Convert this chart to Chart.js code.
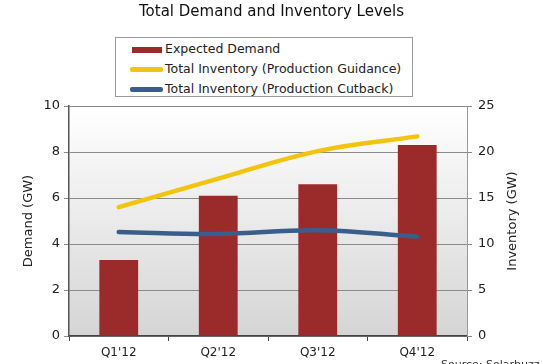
<!DOCTYPE html>
<html>
<head>
<meta charset="utf-8">
<script src="https://cdn.jsdelivr.net/npm/chart.js@4/dist/chart.umd.min.js"></script>
<style>
html,body{margin:0;padding:0;background:#fff;}
#wrap{position:relative;width:543px;height:364px;overflow:hidden;}
#legend{position:absolute;left:115px;top:37px;width:298px;height:60px;border:1px solid #9a9a9a;background:#fff;box-sizing:border-box;padding:1px 0 0 14px;font-family:"DejaVu Sans",Verdana,sans-serif;font-size:12.5px;color:#222;}
#legend .it{height:20px;line-height:19px;white-space:nowrap;}
#legend .sw{display:inline-block;width:33px;vertical-align:middle;margin-right:2px;border-radius:2px;}
#source{position:absolute;left:441px;top:358px;font-family:"DejaVu Sans",Verdana,sans-serif;font-size:11px;color:#333;}
</style>
</head>
<body>
<div id="wrap">
<canvas id="c" width="543" height="364"></canvas>
<div id="legend"></div>
<div id="source">Source: Solarbuzz</div>
</div>
<script>
const categories = ["Q1'12", "Q2'12", "Q3'12", "Q4'12"];
const expectedDemand = [3.3, 6.1, 6.6, 8.3];
const inventoryGuidance = [14.0, 17.1, 20.1, 21.7];
const inventoryCutback = [11.3, 11.1, 11.5, 10.8];
const seriesNames = ["Expected Demand", "Total Inventory (Production Guidance)", "Total Inventory (Production Cutback)"];
const leftTicks = [0, 2, 4, 6, 8, 10];
const rightTicks = [0, 5, 10, 15, 20, 25];

const FONT = '"DejaVu Sans", Verdana, sans-serif';
const colors = ['#9b2a2b', '#f2c40f', '#3b5d8c'];

const bgPlugin = {
  id: 'bg',
  beforeDraw(chart) {
    const {ctx, chartArea: a} = chart;
    const g = ctx.createLinearGradient(0, a.top, 0, a.bottom);
    g.addColorStop(0, '#ffffff');
    g.addColorStop(1, '#d5d5d5');
    ctx.save();
    ctx.fillStyle = g;
    ctx.fillRect(a.left, a.top, a.right - a.left, a.bottom - a.top);
    ctx.restore();
  },
  afterDraw(chart) {
    const {ctx, chartArea: a} = chart;
    const titles = [['Demand (GW)', 29], ['Inventory (GW)', 513]];
    titles.forEach(([t, x]) => {
      ctx.save();
      ctx.fillStyle = '#222';
      ctx.font = '13px ' + FONT;
      ctx.textAlign = 'center';
      ctx.textBaseline = 'middle';
      ctx.translate(x, (a.top + a.bottom) / 2);
      ctx.rotate(-Math.PI / 2);
      ctx.fillText(t, 0, 0);
      ctx.restore();
    });
  }
};

const chart = new Chart(document.getElementById('c'), {
  data: {
    labels: categories,
    datasets: [
      {type: 'line', label: seriesNames[1], data: inventoryGuidance, yAxisID: 'y2',
       borderColor: colors[1], borderWidth: 4.5, pointRadius: 0, tension: 0.4, borderCapStyle: 'round', order: 0},
      {type: 'line', label: seriesNames[2], data: inventoryCutback, yAxisID: 'y2',
       borderColor: colors[2], borderWidth: 4.5, pointRadius: 0, tension: 0.4, borderCapStyle: 'round', order: 0},
      {type: 'bar', label: seriesNames[0], data: expectedDemand, yAxisID: 'y',
       backgroundColor: colors[0], categoryPercentage: 1, barPercentage: 0.39, order: 1}
    ]
  },
  options: {
    responsive: false,
    animation: false,
    devicePixelRatio: 1,
    layout: {padding: {left: 0, right: 0, top: 0, bottom: 0}},
    plugins: {
      legend: {display: false},
      tooltip: {enabled: false},
      title: {display: true, text: 'Total Demand and Inventory Levels', color: '#111',
              font: {family: FONT, size: 15, weight: 'normal'}, padding: {top: 3, bottom: 85}}
    },
    scales: {
      x: {
        offset: true,
        grid: {display: true, drawOnChartArea: false, drawTicks: true, tickLength: 5, color: '#444', offset: true},
        border: {color: '#444', width: 1.5},
        ticks: {color: '#222', font: {family: FONT, size: 12}, padding: 5},
        afterFit(s) { s.height = 28; }
      },
      y: {
        position: 'left', min: 0, max: 10,
        afterBuildTicks(s) { s.ticks = leftTicks.map(v => ({value: v})); },
        grid: {color: '#8a8a8a', lineWidth: 1, tickLength: 5, drawTicks: true},
        border: {color: '#555', width: 1.5},
        ticks: {color: '#222', font: {family: FONT, size: 13}, padding: 4},
        afterFit(s) { s.width = 69; }
      },
      y2: {
        position: 'right', min: 0, max: 25,
        afterBuildTicks(s) { s.ticks = rightTicks.map(v => ({value: v})); },
        grid: {drawOnChartArea: false, color: '#888', tickLength: 5, drawTicks: true},
        border: {color: '#999', width: 1},
        ticks: {color: '#222', font: {family: FONT, size: 13}, padding: 6},
        afterFit(s) { s.width = 76; }
      }
    }
  },
  plugins: [bgPlugin]
});

// HTML legend built from the chart's datasets
const legendOrder = [2, 0, 1];
const leg = document.getElementById('legend');
legendOrder.forEach(i => {
  const ds = chart.data.datasets[i];
  const d = document.createElement('div');
  d.className = 'it';
  const sw = document.createElement('span');
  sw.className = 'sw';
  sw.style.height = ds.type === 'bar' ? '6px' : '5px';
  sw.style.background = ds.type === 'bar' ? ds.backgroundColor : ds.borderColor;
  if (ds.type === 'bar') { sw.style.borderRadius = '0'; sw.style.width = '30px'; sw.style.marginLeft = '2px'; sw.style.marginRight = '3px'; }
  d.appendChild(sw);
  d.appendChild(document.createTextNode(ds.label));
  leg.appendChild(d);
});
</script>
</body>
</html>
